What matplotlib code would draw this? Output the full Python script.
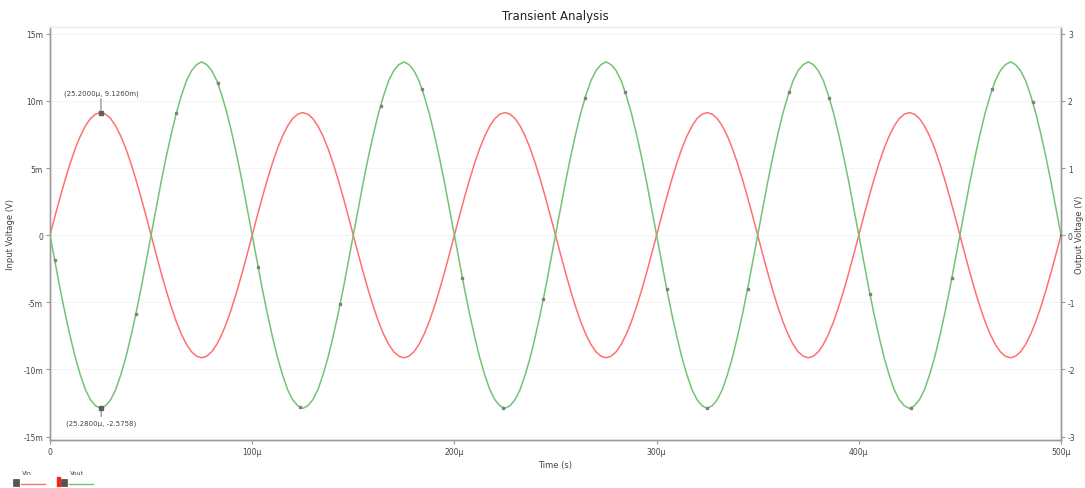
import numpy as np
import matplotlib
matplotlib.use("Agg")
import matplotlib.pyplot as plt

# ---------------- data ----------------
time_us = np.linspace(0, 500, 201)  # sample grid, 2.5 us step

vin_mV = [
    0, 1.43, 2.82, 4.14, 5.36, 6.45, 7.38, 8.13, 8.68, 9.01, 9.13, 9.01, 8.68, 8.13, 7.38, 6.45, 5.36, 4.14, 2.82, 1.43,
    0, -1.43, -2.82, -4.14, -5.36, -6.45, -7.38, -8.13, -8.68, -9.01, -9.13, -9.01, -8.68, -8.13, -7.38, -6.45, -5.36, -4.14, -2.82, -1.43,
    0, 1.43, 2.82, 4.14, 5.36, 6.45, 7.38, 8.13, 8.68, 9.01, 9.13, 9.01, 8.68, 8.13, 7.38, 6.45, 5.36, 4.14, 2.82, 1.43,
    0, -1.43, -2.82, -4.14, -5.36, -6.45, -7.38, -8.13, -8.68, -9.01, -9.13, -9.01, -8.68, -8.13, -7.38, -6.45, -5.36, -4.14, -2.82, -1.43,
    0, 1.43, 2.82, 4.14, 5.36, 6.45, 7.38, 8.13, 8.68, 9.01, 9.13, 9.01, 8.68, 8.13, 7.38, 6.45, 5.36, 4.14, 2.82, 1.43,
    0, -1.43, -2.82, -4.14, -5.36, -6.45, -7.38, -8.13, -8.68, -9.01, -9.13, -9.01, -8.68, -8.13, -7.38, -6.45, -5.36, -4.14, -2.82, -1.43,
    0, 1.43, 2.82, 4.14, 5.36, 6.45, 7.38, 8.13, 8.68, 9.01, 9.13, 9.01, 8.68, 8.13, 7.38, 6.45, 5.36, 4.14, 2.82, 1.43,
    0, -1.43, -2.82, -4.14, -5.36, -6.45, -7.38, -8.13, -8.68, -9.01, -9.13, -9.01, -8.68, -8.13, -7.38, -6.45, -5.36, -4.14, -2.82, -1.43,
    0, 1.43, 2.82, 4.14, 5.36, 6.45, 7.38, 8.13, 8.68, 9.01, 9.13, 9.01, 8.68, 8.13, 7.38, 6.45, 5.36, 4.14, 2.82, 1.43,
    0, -1.43, -2.82, -4.14, -5.36, -6.45, -7.38, -8.13, -8.68, -9.01, -9.13, -9.01, -8.68, -8.13, -7.38, -6.45, -5.36, -4.14, -2.82, -1.43,
    0,
]

vout_V = [
    0, -0.40, -0.80, -1.17, -1.51, -1.82, -2.08, -2.30, -2.45, -2.54, -2.58, -2.54, -2.45, -2.30, -2.08, -1.82, -1.51, -1.17, -0.80, -0.40,
    0, 0.40, 0.80, 1.17, 1.51, 1.82, 2.08, 2.30, 2.45, 2.54, 2.58, 2.54, 2.45, 2.30, 2.08, 1.82, 1.51, 1.17, 0.80, 0.40,
    0, -0.40, -0.80, -1.17, -1.51, -1.82, -2.08, -2.30, -2.45, -2.54, -2.58, -2.54, -2.45, -2.30, -2.08, -1.82, -1.51, -1.17, -0.80, -0.40,
    0, 0.40, 0.80, 1.17, 1.51, 1.82, 2.08, 2.30, 2.45, 2.54, 2.58, 2.54, 2.45, 2.30, 2.08, 1.82, 1.51, 1.17, 0.80, 0.40,
    0, -0.40, -0.80, -1.17, -1.51, -1.82, -2.08, -2.30, -2.45, -2.54, -2.58, -2.54, -2.45, -2.30, -2.08, -1.82, -1.51, -1.17, -0.80, -0.40,
    0, 0.40, 0.80, 1.17, 1.51, 1.82, 2.08, 2.30, 2.45, 2.54, 2.58, 2.54, 2.45, 2.30, 2.08, 1.82, 1.51, 1.17, 0.80, 0.40,
    0, -0.40, -0.80, -1.17, -1.51, -1.82, -2.08, -2.30, -2.45, -2.54, -2.58, -2.54, -2.45, -2.30, -2.08, -1.82, -1.51, -1.17, -0.80, -0.40,
    0, 0.40, 0.80, 1.17, 1.51, 1.82, 2.08, 2.30, 2.45, 2.54, 2.58, 2.54, 2.45, 2.30, 2.08, 1.82, 1.51, 1.17, 0.80, 0.40,
    0, -0.40, -0.80, -1.17, -1.51, -1.82, -2.08, -2.30, -2.45, -2.54, -2.58, -2.54, -2.45, -2.30, -2.08, -1.82, -1.51, -1.17, -0.80, -0.40,
    0, 0.40, 0.80, 1.17, 1.51, 1.82, 2.08, 2.30, 2.45, 2.54, 2.58, 2.54, 2.45, 2.30, 2.08, 1.82, 1.51, 1.17, 0.80, 0.40,
    0,
]

# data-point markers visible on the Vout trace
marker_t_us = [2.3, 42.5, 62.5, 83, 103, 123.5, 143.5, 163.5, 184, 204, 224, 244, 264.5, 284.5,
               305, 325, 345, 365.5, 385.5, 405.5, 426, 446, 466, 486, 500]
marker_v = [-0.37, -1.17, 1.82, 2.26, -0.48, -2.56, -1.02, 1.93, 2.17, -0.64, -2.57, -0.95, 2.04, 2.13,
            -0.80, -2.58, -0.80, 2.13, 2.04, -0.87, -2.57, -0.64, 2.17, 1.98, 0]

# cursor readouts
cur_vin = (25.2, 9.126)      # us, mV
cur_vout = (25.28, -2.5758)  # us, V

left_ticks_mV = [-15, -10, -5, 0, 5, 10, 15]
left_tick_labels = ["-15m", "-10m", "-5m", "0", "5m", "10m", "15m"]
right_ticks = [-3, -2, -1, 0, 1, 2, 3]
right_tick_labels = ["-3", "-2", "-1", "0", "1", "2", "3"]
x_ticks_us = [0, 100, 200, 300, 400, 500]
x_tick_labels = ["0", "100µ", "200µ", "300µ", "400µ", "500µ"]

# ---------------- plot ----------------
RED = "#ff7070"
GREEN = "#74c274"
AX = "#9a9a9a"
TXT = "#444444"

fig = plt.figure(figsize=(10.85, 4.89), dpi=100)
ax = fig.add_axes([50 / 1085, 1 - 441 / 489, (1061 - 50) / 1085, (441 - 28) / 489])
ax2 = ax.twinx()

t = np.array(time_us) * 1e-6
ax.plot(t, np.array(vin_mV) * 1e-3, color=RED, lw=1.1, zorder=3)
ax2.plot(t, vout_V, color=GREEN, lw=1.1, zorder=3)
ax2.plot(np.array(marker_t_us) * 1e-6, marker_v, ls="none", marker="s", ms=1.5,
         color="#808080", zorder=4)

ax.set_xlim(0, 500e-6)
ax.set_ylim(-15.25e-3, 15.5e-3)
ax2.set_ylim(-3.05, 3.1)

ax.set_yticks(np.array(left_ticks_mV) * 1e-3)
ax.set_yticklabels(left_tick_labels)
ax2.set_yticks(right_ticks)
ax2.set_yticklabels(right_tick_labels)
ax.set_xticks(np.array(x_ticks_us) * 1e-6)
ax.set_xticklabels(x_tick_labels)

for a in (ax, ax2):
    for s in a.spines.values():
        s.set_color(AX)
        s.set_linewidth(1.0)
    a.spines["top"].set_color("#eeeeee")
    a.tick_params(labelsize=5.5, colors=TXT, length=3, width=0.8, pad=2)
    a.tick_params(axis="both", color=AX)

ax.grid(axis="y", color="#f5f5f5", lw=0.8)
ax.set_axisbelow(True)

ax.set_title("Transient Analysis", fontsize=8.5, color="#222222", pad=6)
ax.set_xlabel("Time (s)", fontsize=6, color=TXT, labelpad=3)
ax.set_ylabel("Input Voltage (V)", fontsize=6, color=TXT, labelpad=6)
ax2.set_ylabel("Output Voltage (V)", fontsize=6, color=TXT, va="center")
ax2.yaxis.set_label_coords((1080 - 50) / 1011, 0.5)

# cursor annotations
ax.plot([cur_vin[0] * 1e-6], [cur_vin[1] * 1e-3], marker="s", ms=2.2, color="#606060", zorder=5)
ax.annotate("(25.2000µ, 9.1260m)", xy=(cur_vin[0] * 1e-6, cur_vin[1] * 1e-3),
            xytext=(0, 12), textcoords="offset points", ha="center", va="bottom",
            fontsize=5, color=TXT,
            arrowprops=dict(arrowstyle="-", color="#555555", lw=0.6, shrinkA=0, shrinkB=1))
ax2.plot([cur_vout[0] * 1e-6], [cur_vout[1]], marker="s", ms=2.2, color="#606060", zorder=5)
ax2.annotate("(25.2800µ, -2.5758)", xy=(cur_vout[0] * 1e-6, cur_vout[1]),
             xytext=(0, -8), textcoords="offset points", ha="center", va="top",
             fontsize=5, color=TXT,
             arrowprops=dict(arrowstyle="-", color="#555555", lw=0.6, shrinkA=0, shrinkB=1))

# legend strip at bottom-left
def legend_entry(x0, name, color, flag=False):
    y_line = 1 - 485 / 489
    y_txt = 1 - 474 / 489
    if flag:
        fig.patches.append(plt.Rectangle((x0 - 10 / 1085, 1 - 487 / 489), 3 / 1085, 9 / 489,
                                         transform=fig.transFigure, color="#ff2020", zorder=5))
    fig.patches.append(plt.Rectangle((x0 - 6 / 1085, 1 - 487 / 489), 6 / 1085, 7 / 489,
                                     transform=fig.transFigure, facecolor="#555555",
                                     edgecolor="#333333", lw=0.4, zorder=5))
    fig.lines.append(plt.Line2D([x0 + 2 / 1085, x0 + 26 / 1085], [y_line, y_line],
                                transform=fig.transFigure, color=color, lw=1.0))
    fig.text(x0 + 3 / 1085, y_txt, name, fontsize=4.5, color=TXT, va="center", ha="left")

legend_entry(19 / 1085, "Vin", RED)
legend_entry(67 / 1085, "Vout", GREEN, flag=True)

fig.savefig("out.png", dpi=100, facecolor="white")
